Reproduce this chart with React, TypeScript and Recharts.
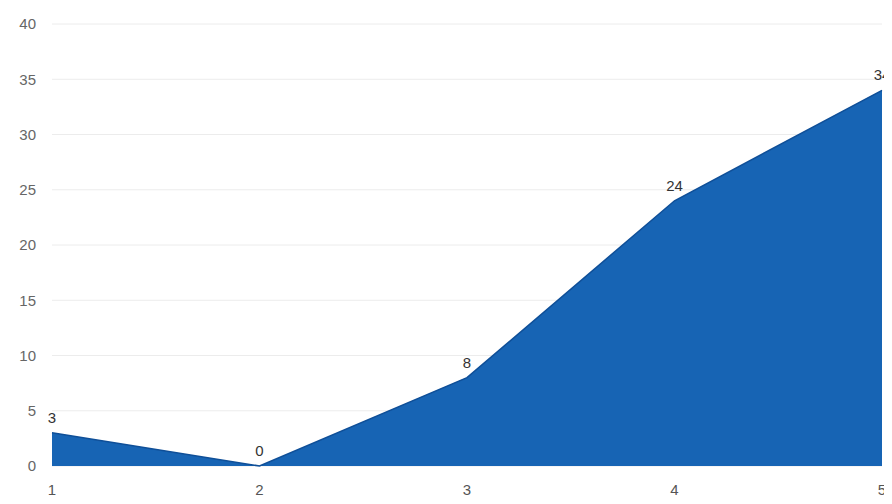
import { Area, AreaChart, CartesianGrid, LabelList, XAxis, YAxis } from 'recharts'

const categories = ['1', '2', '3', '4', '5']
const values = [3, 0, 8, 24, 34]
const yTicks = [0, 5, 10, 15, 20, 25, 30, 35, 40]

const data = categories.map((label, i) => ({ label, value: values[i] }))

export default function App() {
  return (
    <div style={{ width: 884, height: 496, background: '#fff' }}>
      <AreaChart
        width={884}
        height={496}
        data={data}
        margin={{ top: 16, right: 10, bottom: 0, left: 0 }}
      >
        <CartesianGrid vertical={false} stroke="#ececec" />
        <XAxis
          dataKey="label"
          axisLine={false}
          tickLine={false}
          tickSize={0}
          tickMargin={18}
          height={38}
          interval={0}
          tick={{ fill: '#555', fontSize: 15, fontFamily: 'Liberation Sans, Arial, sans-serif' }}
        />
        <YAxis
          domain={[0, 40]}
          ticks={yTicks}
          axisLine={false}
          tickLine={false}
          tickSize={0}
          tickMargin={16}
          width={44}
          tick={{ fill: '#666', fontSize: 15, fontFamily: 'Liberation Sans, Arial, sans-serif' }}
        />
        <Area
          type="linear"
          dataKey="value"
          stroke="#0f4f98"
          strokeWidth={1.5}
          fill="#1764b4"
          fillOpacity={1}
          isAnimationActive={false}
        >
          <LabelList
            dataKey="value"
            position="top"
            offset={10}
            fill="#333"
            fontSize={15}
            fontFamily="Liberation Sans, Arial, sans-serif"
          />
        </Area>
      </AreaChart>
    </div>
  )
}
